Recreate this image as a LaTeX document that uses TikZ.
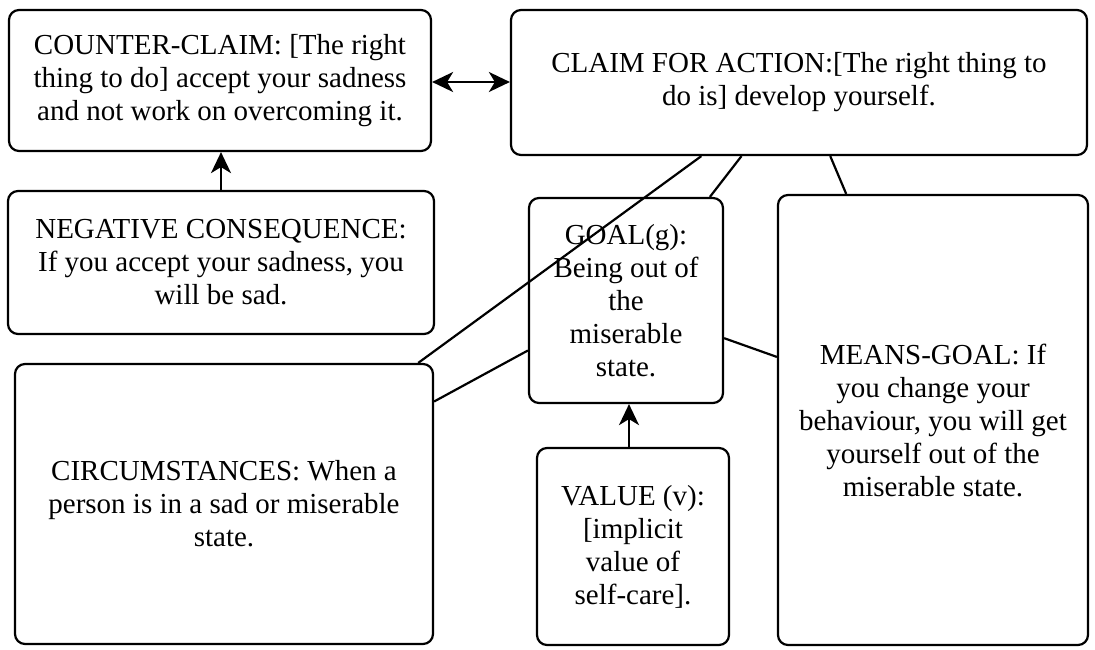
\documentclass[tikz,border=0pt]{standalone}
\usepackage{fontspec}
\setmainfont{Liberation Serif}
\usetikzlibrary{arrows.meta}
\begin{document}
\begin{tikzpicture}[x=1pt,y=-1pt,
  box/.style={draw, line width=2.2pt, rounded corners=10pt, align=center,
    font=\fontsize{29}{33}\selectfont, inner sep=0pt},
  link/.style={line width=2.2pt},
  tip/.tip={Stealth[length=21pt,width=20pt,inset=6pt]},
  arr/.style={line width=2.2pt, -tip},
  dblarr/.style={line width=2.2pt, tip-tip},
]
\useasboundingbox (0,0) rectangle (1095,649);

% argument components
\node[box, minimum width=422pt, minimum height=141pt] (counter) at (220,80.5)
  {COUNTER-CLAIM: [The right\\ thing to do] accept your sadness\\ and not work on overcoming it.};
\node[box, minimum width=576pt, minimum height=145pt] (claim) at (799,82.5)
  {CLAIM FOR ACTION:[The right thing to\\ do is] develop yourself.};
\node[box, minimum width=426pt, minimum height=143pt] (neg) at (221,262.5)
  {NEGATIVE CONSEQUENCE:\\ If you accept your sadness, you\\ will be sad.};
\node[box, minimum width=194pt, minimum height=205pt] (goal) at (626,300.5)
  {GOAL(g):\\ Being out of\\ the\\ miserable\\ state.};
\node[box, minimum width=310pt, minimum height=450pt] (means) at (933,420)
  {MEANS-GOAL: If\\ you change your\\ behaviour, you will get\\ yourself out of the\\ miserable state.};
\node[box, minimum width=418pt, minimum height=280pt] (circ) at (224,504)
  {CIRCUMSTANCES: When a\\ person is in a sad or miserable\\ state.};
\node[box, minimum width=192pt, minimum height=197pt] (value) at (633,546.5)
  {VALUE (v):\\ {[}implicit\\ value of\\ self-care].};

% connectors
\draw[dblarr] (counter.east |- 0,82) -- (claim.west |- 0,82);
\draw[arr] (neg.north) -- (neg.north |- counter.south);
\draw[arr] (value.north -| 629,0) -- (goal.south -| 629,0);

\draw[link] (claim.-143.8) -- (circ.36);
\draw[link] (claim.-128.7) -- (goal.51.3);
\draw[link] (claim.-67.5) -- (means.111.4);
\draw[link] (circ.26.9) -- (goal.-153);
\draw[link] (goal.-21.6) -- (means.158.8);
\end{tikzpicture}
\end{document}
